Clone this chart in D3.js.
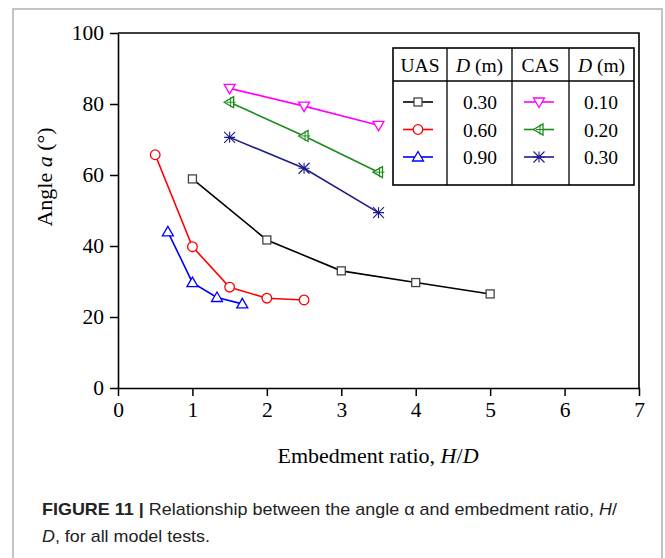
<!DOCTYPE html>
<html>
<head>
<meta charset="utf-8">
<script src="https://cdn.jsdelivr.net/npm/d3@7"></script>
<style>
  body { margin: 0; background: #fff; }
  svg { display: block; }
</style>
</head>
<body>
<svg id="chart" width="665" height="558"></svg>
<script>
// values
const xTicks = [0, 1, 2, 3, 4, 5, 6, 7];
const yTicks = [0, 20, 40, 60, 80, 100];

const uas030X = [1, 2, 3, 4, 5];
const uas030Y = [58.9, 41.7, 33.0, 29.7, 26.5];
const uas060X = [0.5, 1, 1.5, 2, 2.5];
const uas060Y = [65.7, 39.8, 28.4, 25.3, 24.8];
const uas090X = [0.67, 1, 1.33, 1.67];
const uas090Y = [44.0, 29.7, 25.5, 23.7];
const cas010X = [1.5, 2.5, 3.5];
const cas010Y = [84.4, 79.4, 74.0];
const cas020X = [1.5, 2.5, 3.5];
const cas020Y = [80.5, 71.0, 60.8];
const cas030X = [1.5, 2.5, 3.5];
const cas030Y = [70.6, 61.9, 49.4];

const uasLabels = ["0.30", "0.60", "0.90"];
const casLabels = ["0.10", "0.20", "0.30"];

const series = [
  {xs: uas030X, ys: uas030Y, color: "#000000", mark: "square"},
  {xs: uas060X, ys: uas060Y, color: "#ff0000", mark: "circle"},
  {xs: uas090X, ys: uas090Y, color: "#0000ff", mark: "up"},
  {xs: cas010X, ys: cas010Y, color: "#ff00ff", mark: "down"},
  {xs: cas020X, ys: cas020Y, color: "#1a8c1a", mark: "left"},
  {xs: cas030X, ys: cas030Y, color: "#1c1c8c", mark: "cross"}
];

const svg = d3.select("#chart");
const serif = "'Liberation Serif', 'Times New Roman', serif";

// outer figure border
svg.append("rect")
  .attr("x", 13).attr("y", 9)
  .attr("width", 649).attr("height", 560)
  .attr("fill", "none").attr("stroke", "#b0b0b0").attr("stroke-width", 1.5);

var margin = {top: 33, left: 118, right: 639, bottom: 388};

const x = d3.scaleLinear().domain([0, 7]).range([margin.left, margin.right]);
const y = d3.scaleLinear().domain([0, 100]).range([margin.bottom, margin.top]);

// x axis
svg.append("g")
  .attr("transform", "translate(0," + margin.bottom + ")")
  .call(d3.axisBottom(x).tickValues(xTicks).tickSize(8).tickPadding(6).tickSizeOuter(0).tickFormat(d3.format("d")))
  .call(g => g.select(".domain").attr("stroke-width", 1.6))
  .call(g => g.selectAll(".tick line").attr("stroke-width", 1.5))
  .call(g => g.selectAll("text").attr("font-family", serif).attr("font-size", 21.5).attr("fill", "#000"));

// y axis
svg.append("g")
  .attr("transform", "translate(" + margin.left + ",0)")
  .call(d3.axisLeft(y).tickValues(yTicks).tickSize(8).tickPadding(6).tickSizeOuter(0))
  .call(g => g.select(".domain").attr("stroke-width", 1.6))
  .call(g => g.selectAll(".tick line").attr("stroke-width", 1.5))
  .call(g => g.selectAll("text").attr("font-family", serif).attr("font-size", 21.5).attr("fill", "#000"));

// top and right frame
svg.append("path")
  .attr("d", "M" + margin.left + "," + margin.top + "H" + margin.right + "V" + margin.bottom)
  .attr("fill", "none").attr("stroke", "#000").attr("stroke-width", 1.6);

// axis titles
svg.append("text")
  .attr("x", 378).attr("y", 463)
  .attr("text-anchor", "middle")
  .attr("font-family", serif).attr("font-size", 22)
  .html('Embedment ratio, <tspan font-style="italic">H</tspan>/<tspan font-style="italic">D</tspan>');

svg.append("text")
  .attr("transform", "translate(52,177) rotate(-90)")
  .attr("text-anchor", "middle")
  .attr("font-family", serif).attr("font-size", 22)
  .html('Angle <tspan font-style="italic">a</tspan> (°)');

function drawMarker(g, type, cx, cy, color) {
  const s = 5.5;
  if (type === "square") {
    g.append("rect").attr("x", cx - 4).attr("y", cy - 4).attr("width", 8).attr("height", 8)
      .attr("fill", "#fff").attr("stroke", "#444").attr("stroke-width", 1.3);
  } else if (type === "circle") {
    g.append("circle").attr("cx", cx).attr("cy", cy).attr("r", 4.8)
      .attr("fill", "#fff").attr("stroke", color).attr("stroke-width", 1.3);
  } else if (type === "up") {
    g.append("path").attr("d", `M${cx},${cy - 5.5}L${cx + 5.5},${cy + 4}L${cx - 5.5},${cy + 4}Z`)
      .attr("fill", "#fff").attr("stroke", color).attr("stroke-width", 1.3);
  } else if (type === "down") {
    g.append("path").attr("d", `M${cx},${cy + 5.5}L${cx + 5.5},${cy - 4}L${cx - 5.5},${cy - 4}Z`)
      .attr("fill", "#fff").attr("stroke", color).attr("stroke-width", 1.3);
  } else if (type === "left") {
    g.append("path").attr("d", `M${cx - 5.5},${cy}L${cx + 4},${cy - 5.5}L${cx + 4},${cy + 5.5}Z`)
      .attr("fill", "#fff").attr("stroke", color).attr("stroke-width", 1.3);
    g.append("path").attr("d", `M${cx + 1},${cy - 5}V${cy + 5}M${cx - 3},${cy}H${cx + 6}`)
      .attr("stroke", color).attr("stroke-width", 1);
  } else if (type === "cross") {
    g.append("path").attr("d", `M${cx - s},${cy - s}L${cx + s},${cy + s}M${cx - s},${cy + s}L${cx + s},${cy - s}M${cx - s},${cy}H${cx + s}M${cx},${cy - s}V${cy + s}`)
      .attr("stroke", color).attr("stroke-width", 1.1).attr("fill", "none");
  }
}

// series
const line = d3.line().x(d => x(d[0])).y(d => y(d[1]));
series.forEach(s => {
  const pts = s.xs.map((v, i) => [v, s.ys[i]]);
  const g = svg.append("g");
  g.append("path").datum(pts)
    .attr("fill", "none").attr("stroke", s.color).attr("stroke-width", 1.6)
    .attr("d", line);
  pts.forEach(p => drawMarker(g, s.mark, x(p[0]), y(p[1]), s.color));
});

// legend table
const lg = svg.append("g");
const lLeft = 393, lTop = 48, lRight = 634, lBottom = 185, lHead = 81;
const cols = [393, 447, 512, 569, 634];
lg.append("rect").attr("x", lLeft).attr("y", lTop)
  .attr("width", lRight - lLeft).attr("height", lBottom - lTop)
  .attr("fill", "#fff").attr("stroke", "#000").attr("stroke-width", 1.6);
lg.append("line").attr("x1", lLeft).attr("x2", lRight).attr("y1", lHead).attr("y2", lHead)
  .attr("stroke", "#000").attr("stroke-width", 1.3);
cols.slice(1, 4).forEach(cx => {
  lg.append("line").attr("x1", cx).attr("x2", cx).attr("y1", lTop).attr("y2", lBottom)
    .attr("stroke", "#000").attr("stroke-width", 1.3);
});
const heads = ["UAS", "D", "CAS", "D"];
heads.forEach((h, i) => {
  const t = lg.append("text")
    .attr("x", (cols[i] + cols[i + 1]) / 2).attr("y", 72)
    .attr("text-anchor", "middle")
    .attr("font-family", serif).attr("font-size", 19.5);
  if (h === "D") t.html('<tspan font-style="italic">D</tspan> (m)');
  else t.text(h);
});
const rowY = d3.scalePoint().domain([0, 1, 2]).range([102, 157]);
[0, 1, 2].forEach(i => {
  const su = series[i], sc = series[i + 3];
  lg.append("line").attr("x1", 403).attr("x2", 433).attr("y1", rowY(i)).attr("y2", rowY(i))
    .attr("stroke", su.color).attr("stroke-width", 1.6);
  drawMarker(lg, su.mark, 418, rowY(i), su.color);
  lg.append("line").attr("x1", 524).attr("x2", 554).attr("y1", rowY(i)).attr("y2", rowY(i))
    .attr("stroke", sc.color).attr("stroke-width", 1.6);
  drawMarker(lg, sc.mark, 539, rowY(i), sc.color);
  lg.append("text").attr("x", 480).attr("y", rowY(i) + 7)
    .attr("text-anchor", "middle").attr("font-family", serif).attr("font-size", 19.5)
    .text(uasLabels[i]);
  lg.append("text").attr("x", 601).attr("y", rowY(i) + 7)
    .attr("text-anchor", "middle").attr("font-family", serif).attr("font-size", 19.5)
    .text(casLabels[i]);
});

// caption
const sans = "'Liberation Sans', Arial, sans-serif";
svg.append("text")
  .attr("x", 42).attr("y", 515)
  .attr("font-family", sans).attr("font-size", 17).attr("fill", "#222")
  .attr("textLength", 575).attr("lengthAdjust", "spacingAndGlyphs")
  .html('<tspan font-weight="bold">FIGURE 11</tspan> <tspan font-weight="bold">|</tspan> Relationship between the angle α and embedment ratio, <tspan font-style="italic">H</tspan>/');
svg.append("text")
  .attr("x", 42).attr("y", 542)
  .attr("font-family", sans).attr("font-size", 17).attr("fill", "#222")
  .attr("textLength", 168).attr("lengthAdjust", "spacingAndGlyphs")
  .html('<tspan font-style="italic">D</tspan>, for all model tests.');
</script>
</body>
</html>
